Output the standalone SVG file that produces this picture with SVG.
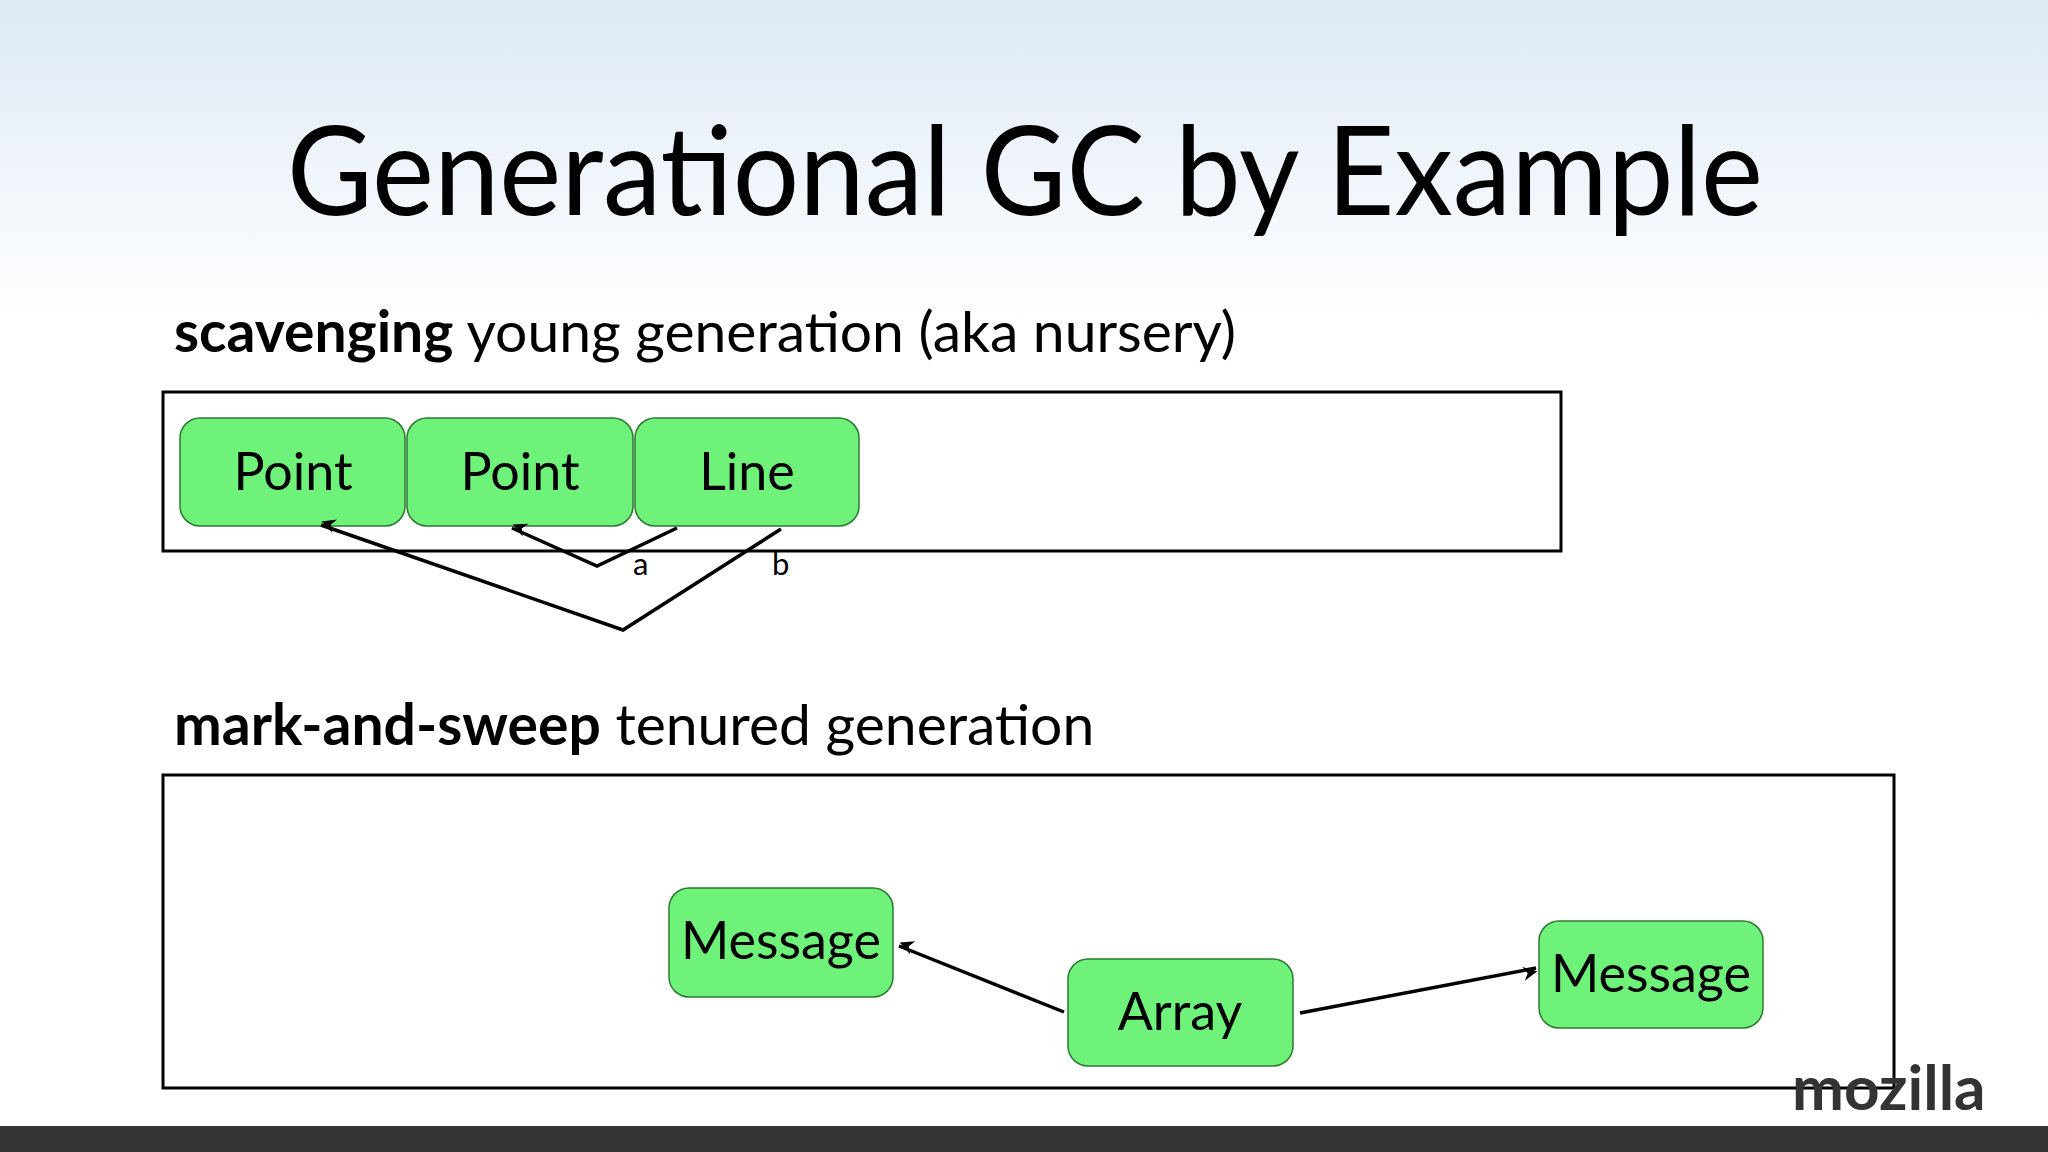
<svg xmlns="http://www.w3.org/2000/svg" width="2048" height="1152" viewBox="0 0 2048 1152">
<defs>
<linearGradient id="bg" x1="0" y1="0" x2="0" y2="1">
<stop offset="0" stop-color="#dde9f5"/><stop offset="0.28" stop-color="#ffffff"/><stop offset="1" stop-color="#ffffff"/>
</linearGradient>
<marker id="ah" viewBox="0 0 10 10" refX="9" refY="5" markerWidth="7" markerHeight="7" markerUnits="userSpaceOnUse" orient="auto" overflow="visible">
<path d="M0,0 L10,5 L0,10 L3,5 z" fill="#000" transform="scale(2) translate(-5,0)"/>
</marker>
<style>
.t{font-family:Lato,"Open Sans",sans-serif;fill:#000}
.box{fill:#fff;stroke:#000;stroke-width:3}
.n rect{fill:#6ef27a;stroke:#2a7a30;stroke-width:1.5}
.n text{font-family:Lato,"Open Sans",sans-serif;font-size:52px;text-anchor:middle;fill:#000}
.c{fill:none;stroke:#000;stroke-width:3.5;marker-end:url(#ah)}
.lbl{font-family:Lato,"Open Sans",sans-serif;font-size:31px;fill:#000}
</style>
</defs>
<rect width="2048" height="1152" fill="url(#bg)"/>
<text class="t" x="1025" y="215" font-size="124" text-anchor="middle" textLength="1476" lengthAdjust="spacingAndGlyphs">Generational GC by Example</text>
<text class="t" x="174" y="352" font-size="57"><tspan font-weight="bold">scavenging</tspan> young generation (aka nursery)</text>
<text class="t" x="174" y="745" font-size="57"><tspan font-weight="bold">mark-and-sweep</tspan> tenured generation</text>
<rect class="box" x="163" y="392" width="1398" height="159"/>
<rect class="box" x="163" y="775" width="1731" height="313"/>
<g id="point1" class="n"><rect x="180" y="418" width="225" height="108" rx="20"/><text x="293" y="490">Point</text></g>
<g id="point2" class="n"><rect x="407" y="418" width="226" height="108" rx="20"/><text x="520" y="490">Point</text></g>
<g id="line" class="n"><rect x="635" y="418" width="224" height="108" rx="20"/><text x="747" y="490">Line</text></g>
<g id="message1" class="n"><rect x="669" y="888" width="224" height="109" rx="20"/><text x="781" y="959">Message</text></g>
<g id="array" class="n"><rect x="1068" y="959" width="225" height="107" rx="20"/><text x="1180" y="1030">Array</text></g>
<g id="message2" class="n"><rect x="1539" y="921" width="224" height="107" rx="20"/><text x="1651" y="992">Message</text></g>
<g id="connectors">
<polyline class="c" points="677,528 597,566 512,528"/>
<polyline class="c" points="781,529 623,630 321,525"/>
<line class="c" x1="1064" y1="1012" x2="899" y2="946"/>
<line class="c" x1="1300" y1="1013" x2="1536" y2="968"/>
<text class="lbl" x="633" y="575">a</text>
<text class="lbl" x="772" y="575">b</text>
</g>
<text x="1792" y="1110" font-family="Lato,sans-serif" font-weight="bold" font-size="62" fill="#333">mozilla</text>
<rect x="0" y="1126" width="2048" height="26" fill="#333"/>
</svg>
